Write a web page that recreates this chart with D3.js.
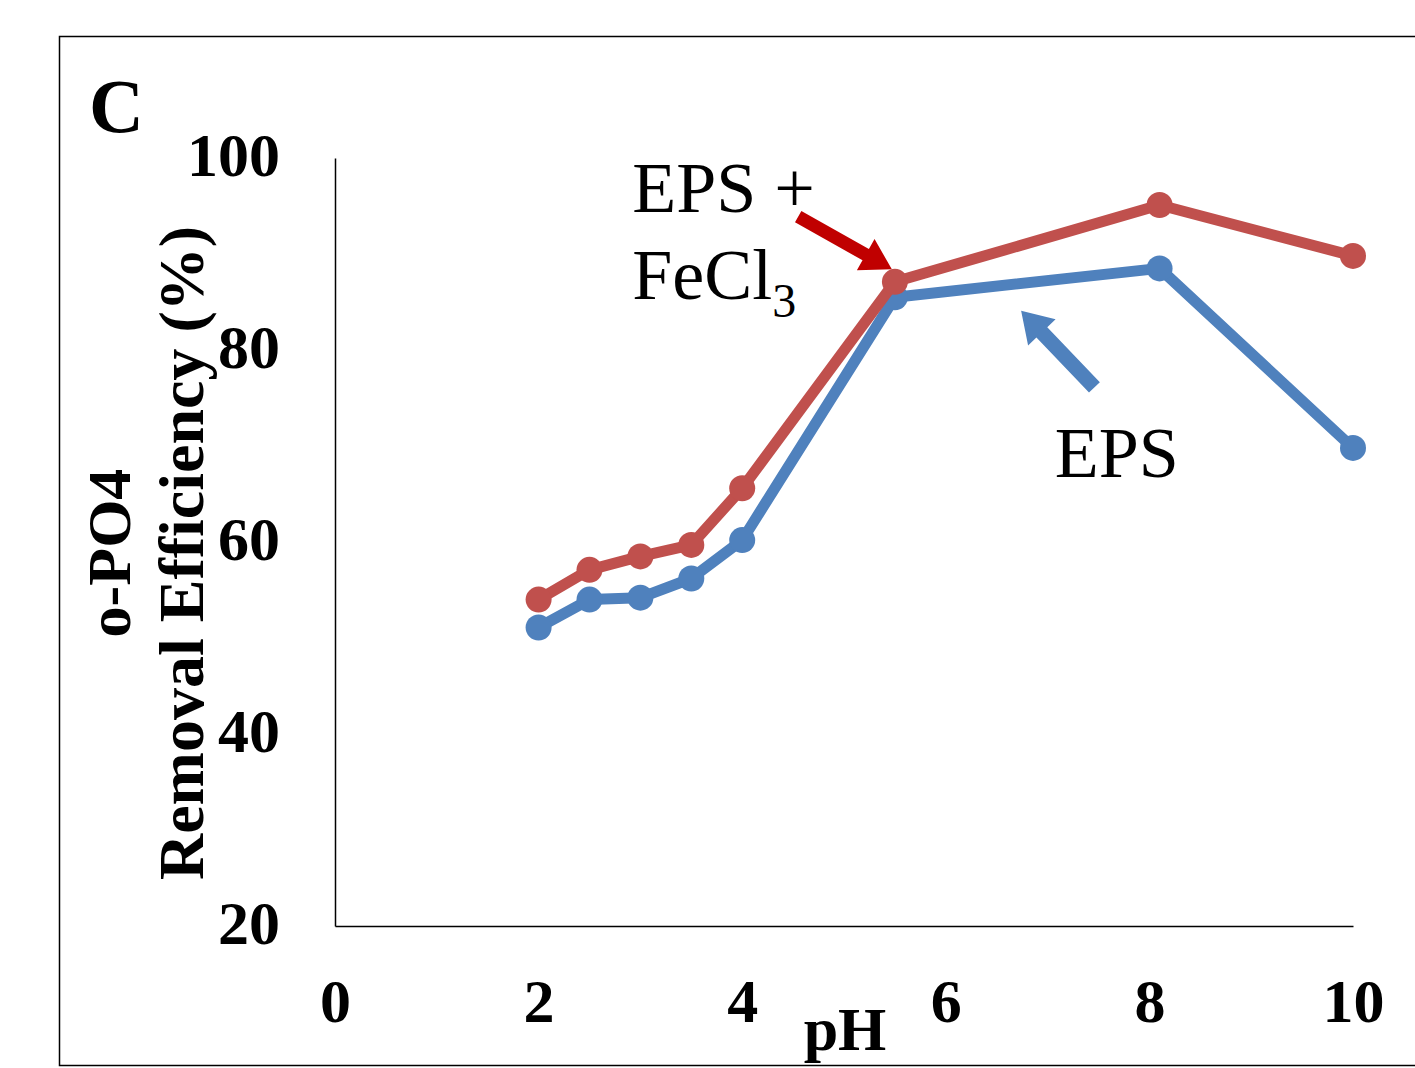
<!DOCTYPE html>
<html>
<head>
<meta charset="utf-8">
<script src="https://cdn.jsdelivr.net/npm/d3@7"></script>
<style>
  html, body { margin: 0; padding: 0; background: #fff; }
  svg { display: block; }
  text { font-family: "Liberation Serif", "Times New Roman", serif; }
</style>
</head>
<body>
<div id="chart"></div>
<script>
// pH values (x) for both series
var phValues = [2, 2.5, 3, 3.5, 4, 5.5, 8.1, 10];
// removal efficiency (%), EPS + FeCl3
var epsFeValues = [54.0, 57.1, 58.5, 59.7, 65.6, 87.1, 95.1, 89.8];
// removal efficiency (%), EPS alone
var epsValues = [51.1, 54.0, 54.2, 56.2, 60.2, 85.5, 88.5, 69.8];
var xTicks = [0, 2, 4, 6, 8, 10];
var yTicks = [20, 40, 60, 80, 100];

var width = 1415,
	height = 1068,
	margin = {top: 158, right: 62, bottom: 142, left: 335},
	redColor = "#C0504D",
	blueColor = "#4F81BD";

var svg = d3.select("#chart").append("svg")
	.attr("width", width)
	.attr("height", height);

// outer frame (runs off the right edge)
svg.append("rect")
	.attr("x", 59.5)
	.attr("y", 36.5)
	.attr("width", 1400)
	.attr("height", 1029)
	.attr("fill", "none")
	.attr("stroke", "#000")
	.attr("stroke-width", 1.5);

var x = d3.scaleLinear().domain([0, 10]).range([margin.left, width - margin.right]);
var y = d3.scaleLinear().domain([20, 100]).range([height - margin.bottom, margin.top]);

// y axis
var yAxis = svg.append("g")
	.attr("transform", "translate(" + x(0) + ",0)")
	.call(d3.axisLeft(y).tickValues(yTicks).tickSize(0).tickPadding(55));
yAxis.select(".domain").attr("stroke", "#000").attr("stroke-width", 1.5);
yAxis.selectAll("text")
	.attr("font-size", 62)
	.attr("font-weight", "bold")
	.attr("fill", "#000")
	.attr("dy", "0.28em");

// x axis
var xAxis = svg.append("g")
	.attr("transform", "translate(0," + y(20) + ")")
	.call(d3.axisBottom(x).tickValues(xTicks).tickSize(0).tickPadding(52));
xAxis.select(".domain").attr("stroke", "#000").attr("stroke-width", 1.5);
xAxis.selectAll("text")
	.attr("font-size", 62)
	.attr("font-weight", "bold")
	.attr("fill", "#000");

var line = d3.line()
	.x(function(d) { return x(d[0]); })
	.y(function(d) { return y(d[1]); });

function drawSeries(vals, color) {
	var pts = phValues.map(function(p, i) { return [p, vals[i]]; });
	svg.append("path")
		.datum(pts)
		.attr("d", line)
		.attr("fill", "none")
		.attr("stroke", color)
		.attr("stroke-width", 11)
		.attr("stroke-linejoin", "round");
	svg.append("g").selectAll("circle")
		.data(pts)
		.enter().append("circle")
		.attr("cx", function(d) { return x(d[0]); })
		.attr("cy", function(d) { return y(d[1]); })
		.attr("r", 13)
		.attr("fill", color);
}

drawSeries(epsValues, blueColor);
drawSeries(epsFeValues, redColor);

// block arrows, given in data units
function blockArrow(from, to, color, shaft, head, headLen) {
	var x0 = x(from[0]), y0 = y(from[1]), x1 = x(to[0]), y1 = y(to[1]);
	var ang = Math.atan2(y1 - y0, x1 - x0) * 180 / Math.PI;
	var len = Math.sqrt((x1 - x0) * (x1 - x0) + (y1 - y0) * (y1 - y0));
	var g = svg.append("g")
		.attr("transform", "translate(" + x0 + "," + y0 + ") rotate(" + ang + ")");
	g.append("path")
		.attr("d", "M0," + (-shaft / 2) +
			"L" + (len - headLen) + "," + (-shaft / 2) +
			"L" + (len - headLen) + "," + (-head / 2) +
			"L" + len + ",0" +
			"L" + (len - headLen) + "," + (head / 2) +
			"L" + (len - headLen) + "," + (shaft / 2) +
			"L0," + (shaft / 2) + "Z")
		.attr("fill", color);
}

blockArrow([4.55, 93.9], [5.47, 88.4], "#C00000", 13, 36, 30);
blockArrow([7.46, 76.1], [6.74, 84.1], blueColor, 15, 38, 30);

// series labels
svg.append("text")
	.attr("x", x(2.92)).attr("y", y(94.4))
	.attr("font-size", 72).attr("fill", "#000")
	.text("EPS +");
var fe = svg.append("text")
	.attr("x", x(2.92)).attr("y", y(85.3))
	.attr("font-size", 72).attr("fill", "#000");
fe.append("tspan").text("FeCl");
fe.append("tspan").attr("font-size", 48).attr("dy", 18).text("3");

svg.append("text")
	.attr("x", x(7.07)).attr("y", y(66.8))
	.attr("font-size", 72).attr("fill", "#000")
	.text("EPS");

// panel letter
svg.append("text")
	.attr("x", 89).attr("y", 132)
	.attr("font-size", 76).attr("font-weight", "bold").attr("fill", "#000")
	.text("C");

// axis titles
svg.append("text")
	.attr("x", 845).attr("y", 1050)
	.attr("text-anchor", "middle")
	.attr("font-size", 62).attr("font-weight", "bold").attr("fill", "#000")
	.text("pH");

var yTitle = svg.append("text")
	.attr("transform", "translate(130,553) rotate(-90)")
	.attr("text-anchor", "middle")
	.attr("font-weight", "bold").attr("fill", "#000");
yTitle.append("tspan").attr("x", 0).attr("y", 0).attr("font-size", 62).text("o-PO4");
yTitle.append("tspan").attr("x", 0).attr("y", 73).attr("font-size", 64).text("Removal Efficiency (%)");
</script>
</body>
</html>
